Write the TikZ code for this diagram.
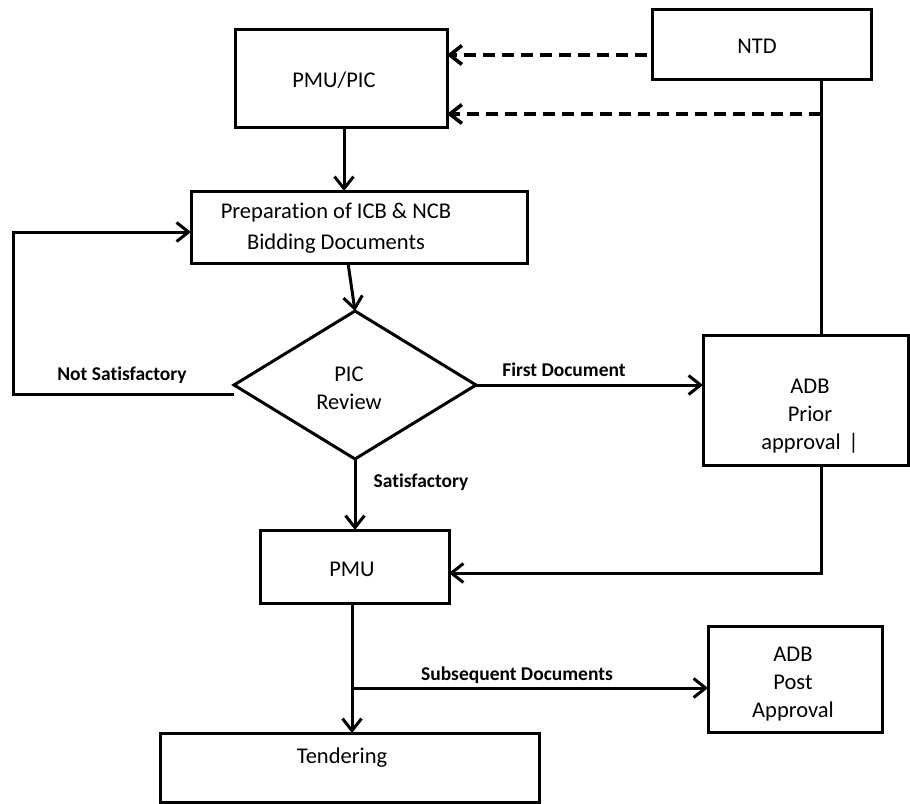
\documentclass[tikz,border=0pt]{standalone}
\usepackage{fontspec}
\setmainfont{Carlito}[Ligatures={NoCommon}]
\usetikzlibrary{arrows.meta,shapes.geometric}
\begin{document}
\begin{tikzpicture}[x=1pt,y=-1pt,
  every node/.style={font=\fontsize{22.5}{28}\selectfont, inner sep=0pt, outer sep=0pt},
  box/.style={draw, line width=3pt, rectangle},
  lab/.style={font=\fontsize{19.5}{23}\selectfont\bfseries},
  conn/.style={line width=3pt},
  arr/.style={line width=3pt, -{Straight Barb[length=12pt,width=19pt]}},
  dasharr/.style={line width=3.6pt, dash pattern=on 12pt off 7pt, -{Straight Barb[length=12pt,width=19pt]}},
]
\useasboundingbox (0,0) rectangle (910,803);

% boxes
\node[box, minimum width=212pt, minimum height=98pt] (pmupic) at (341,78) {};
\node (pmupictxt) at (334,80) {PMU/PIC};
\node[box, minimum width=219pt, minimum height=70pt] (ntd) at (761.5,44) {};
\node (ntdtxt) at (757,46) {NTD};
\node[box, minimum width=336pt, minimum height=72pt] (prep) at (359,227) {};
\node[align=center, font=\fontsize{22.5}{31}\selectfont] (preptxt) at (336,228) {Preparation of ICB \& NCB\\Bidding Documents};
\node[draw, diamond, line width=3pt, minimum width=242pt, minimum height=148pt, inner sep=0pt] (diam) at (355,385) {};
\node[align=center] (diamtxt) at (349,388) {PIC\\Review};
\node[box, minimum width=205pt, minimum height=130pt] (adbp) at (805.5,400) {};
\node[align=center] (adbptxt) at (810,416) {ADB\\Prior\\approval\,\,|};
\node[box, minimum width=189pt, minimum height=73pt] (pmu) at (354.5,566.5) {};
\node (pmutxt) at (352,569) {PMU};
\node[box, minimum width=174pt, minimum height=106pt] (adbq) at (795,679) {};
\node[align=center] (adbqtxt) at (793,684) {ADB\\Post\\Approval};
\node[box, minimum width=379pt, minimum height=69pt] (tend) at (349.5,767.5) {};
\node (tendtxt) at (342,758) {Tendering};

% connectors
\coordinate (vx) at (821,0);
\coordinate (d1) at ([xshift=-5pt]ntd.west);
\draw[dasharr] (d1 |- 0,55) -- (pmupic.east |- 0,55);
\draw[conn] (ntd.south -| vx) -- (adbp.north -| vx);
\draw[dasharr] (vx |- 0,114) -- (pmupic.east |- 0,114);
\draw[arr] (pmupic.south -| 344,0) -- (prep.north -| 344,0);
\draw[arr] (prep.south -| 348,0) -- (diam.north);
\coordinate (nsl) at ([yshift=-9pt]diam.west);
\draw[arr] (nsl) -- (nsl -| 13,0) -- (13,232) -- (prep.west |- 0,232);
\node[lab] (ns) at (122,375) {Not Satisfactory};
\draw[arr] (diam.east) -- (diam.east -| adbp.west);
\node[lab] (fd) at (564,370) {First Document};
\draw[arr] (diam.south) -- (diam.south |- pmu.north);
\node[lab] (sat) at (421,482) {Satisfactory};
\draw[arr] (adbp.south -| vx) -- (vx |- 0,573) -- (pmu.east |- 0,573);
\coordinate (br) at (352,688);
\draw[arr] (pmu.south -| br) -- (tend.north -| br);
\draw[arr] (br) -- (br -| adbq.west);
\node[lab] (sd) at (517,675) {Subsequent Documents};
\end{tikzpicture}
\end{document}
